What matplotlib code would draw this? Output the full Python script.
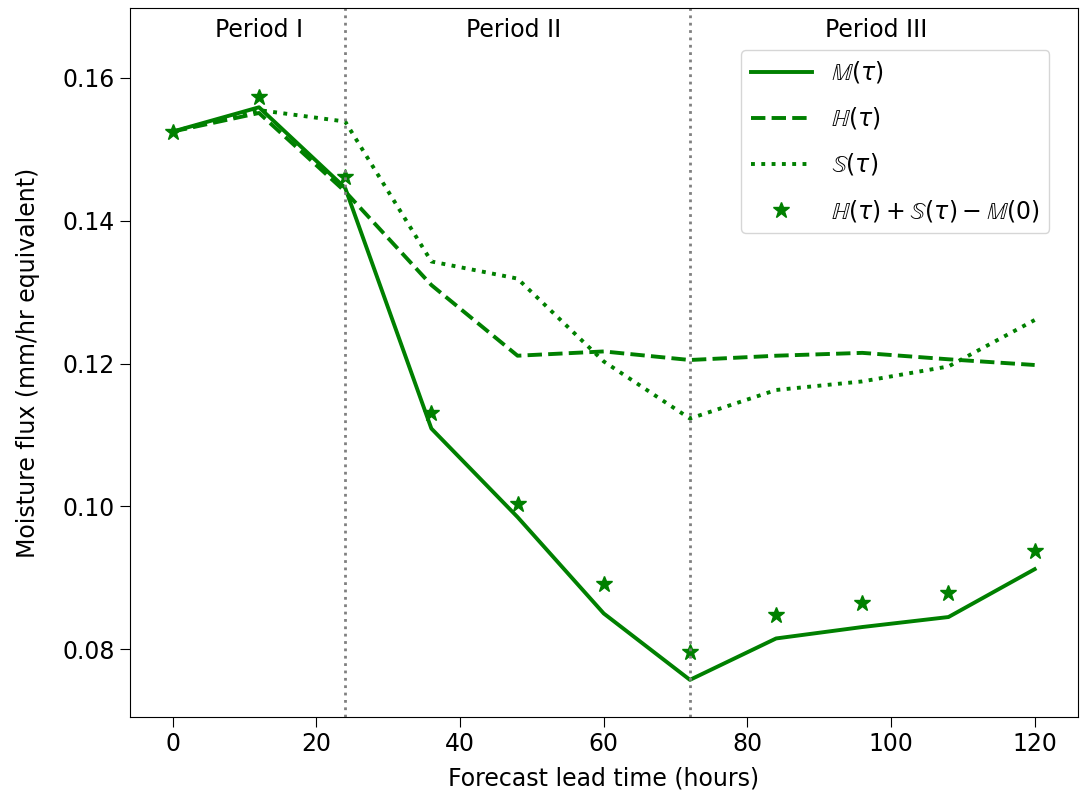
import matplotlib
matplotlib.use('Agg')
import matplotlib.pyplot as plt

# lead times (hours)
lead = [0, 12, 24, 36, 48, 60, 72, 84, 96, 108, 120]

# M(tau), H(tau), S(tau)
m_tau = [0.1525, 0.1559, 0.1446, 0.1109, 0.0985, 0.0850, 0.0757, 0.0815, 0.0831, 0.0845, 0.0912]
h_tau = [0.1525, 0.1551, 0.1441, 0.1310, 0.1211, 0.1217, 0.1205, 0.1211, 0.1215, 0.1206, 0.1198]
s_tau = [0.1525, 0.1555, 0.1539, 0.1343, 0.1319, 0.1203, 0.1123, 0.1163, 0.1175, 0.1196, 0.1261]
# H + S - M(0) stars
hs_m0 = [0.1525, 0.1574, 0.1462, 0.1131, 0.1003, 0.0891, 0.0796, 0.0848, 0.0864, 0.0878, 0.0938]

period_bounds = [24, 72]
period_names = ['Period I', 'Period II', 'Period III']
period_centres = [12, 47.5, 98]

plt.rcParams['font.size'] = 17

fig = plt.figure(figsize=(10.81, 8.02), dpi=100)
ax = fig.add_axes([0.120, 0.106, 0.877, 0.884])

ax.plot(lead, m_tau, color='green', lw=2.8, label=r'$\mathbb{M}(\tau)$')
ax.plot(lead, h_tau, color='green', lw=2.8, ls='--', label=r'$\mathbb{H}(\tau)$')
ax.plot(lead, s_tau, color='green', lw=2.8, ls=':', label=r'$\mathbb{S}(\tau)$')
ax.plot(lead, hs_m0, color='green', ls='none', marker='*', ms=12,
        label=r'$\mathbb{H}(\tau) + \mathbb{S}(\tau) - \mathbb{M}(0)$')

for b in period_bounds:
    ax.axvline(b, color='grey', ls=':', lw=2)

for name, xc in zip(period_names, period_centres):
    ax.text(xc, 0.1667, name, ha='center', va='center')

ax.set_xlim(-6, 126)
ax.set_ylim(0.0705, 0.1698)
ax.set_xticks([0, 20, 40, 60, 80, 100, 120])
ax.set_yticks([0.08, 0.10, 0.12, 0.14, 0.16])
ax.tick_params(length=7)

ax.set_xlabel('Forecast lead time (hours)', labelpad=8)
ax.set_ylabel('Moisture flux (mm/hr equivalent)', labelpad=16)

ax.legend(loc='upper right', bbox_to_anchor=(0.970, 0.941), borderaxespad=0,
          handlelength=2.6, labelspacing=0.85)

plt.savefig('out.png')
plt.close()
